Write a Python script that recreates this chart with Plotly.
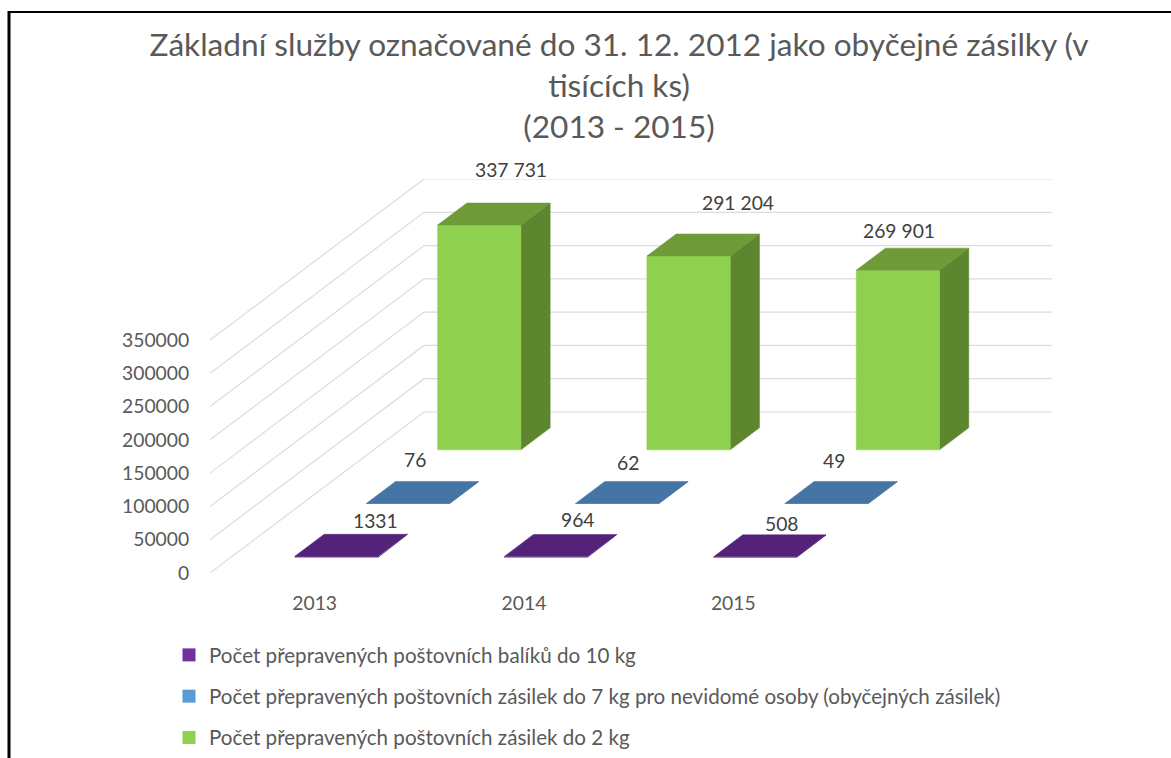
import plotly.graph_objects as go

FONT = "Lato"
TITLE = "Základní služby označované do 31. 12. 2012 jako obyčejné zásilky (v<br>tisících ks)<br>(2013 - 2015)"
years = [2013, 2014, 2015]
parcels_10kg = [1331, 964, 508]
blind_7kg = [76, 62, 49]
items_2kg = [337731, 291204, 269901]
labels_10kg = ["1331", "964", "508"]
labels_7kg = ["76", "62", "49"]
labels_2kg = ["337 731", "291 204", "269 901"]
y_ticks = [0, 50000, 100000, 150000, 200000, 250000, 300000, 350000]
name_10kg = "Počet přepravených poštovních balíků do 10 kg"
name_7kg = "Počet přepravených poštovních zásilek do 7 kg pro nevidomé osoby (obyčejných zásilek)"
name_2kg = "Počet přepravených poštovních zásilek do 2 kg"

W, H = 1171, 758
L, R, T, B = 210, 1052, 179, 573
V_PER_PX = 350000 / 233
DX = 214 / 209.25          # depth shift in category units
DY = 161 * V_PER_PX        # depth shift in value units
X_MIN, X_MAX = 2012.5, 2015.5 + DX
Y_MAX = (B - T) * V_PER_PX
BAR_W = 0.199
BAR_D = 11 / 161
CX_OFF = 0.004


def proj(x, d, v):
    return x + d * DX, v + d * DY


def poly(corners):
    xs, ys = [], []
    for x, d, v in corners:
        px, py = proj(x, d, v)
        xs.append(px)
        ys.append(py)
    return xs + [xs[0], None], ys + [ys[0], None]


def add_face(fig, cols):
    xs, ys = [], []
    for c in cols:
        a, b = poly(c)
        xs += a
        ys += b
    return xs, ys


fig = go.Figure()

# wall grid
gx, gy = [], []
for t in y_ticks:
    for x, d in [(X_MIN, 0), (X_MIN, 1), (X_MIN + 3, 1)]:
        px, py = proj(x, d, t)
        gx.append(px)
        gy.append(py)
    gx.append(None)
    gy.append(None)
fig.add_trace(go.Scatter(x=gx, y=gy, mode="lines", line=dict(color="#dcdcdc", width=1.2),
                         showlegend=False, hoverinfo="skip", cliponaxis=False))

series = [
    (items_2kg, 5 / 6, "#8fd14f", "#5d862f", "#6e9a38"),
    (blind_7kg, 3 / 6, "#5b9bd5", "#39648f", "#4575a5"),
    (parcels_10kg, 1 / 6, "#7030a0", "#43186a", "#55227a"),
]
for vals, dc, c_front, c_side, c_top in series:
    fronts, sides, tops = [], [], []
    for yr, v in zip(years, vals):
        x0, x1 = yr + CX_OFF - BAR_W, yr + CX_OFF + BAR_W
        d0, d1 = dc - BAR_D, dc + BAR_D
        fronts.append([(x0, d0, 0), (x1, d0, 0), (x1, d0, v), (x0, d0, v)])
        sides.append([(x1, d0, 0), (x1, d1, 0), (x1, d1, v), (x1, d0, v)])
        tops.append([(x0, d0, v), (x1, d0, v), (x1, d1, v), (x0, d1, v)])
    for faces, col in [(sides, c_side), (fronts, c_front), (tops, c_top)]:
        xs, ys = add_face(fig, faces)
        fig.add_trace(go.Scatter(x=xs, y=ys, mode="lines", fill="toself", fillcolor=col,
                                 line=dict(color=col, width=0.5), showlegend=False, hoverinfo="skip"))

# legend entries
for name, col in [(name_10kg, "#7030a0"), (name_7kg, "#5b9bd5"), (name_2kg, "#92d050")]:
    fig.add_trace(go.Scatter(x=[None], y=[None], mode="markers", name=name, legendgroup=name,
                             marker=dict(symbol="square", size=13, color=col)))

# data labels: anchored on each bar's top face, shifted in px by hand
label_sets = [
    (items_2kg, labels_2kg, 5 / 6, [17, 35, -14], [45, 42, 29]),
    (blind_7kg, labels_7kg, 3 / 6, [-8, -4, -7], [33, 30, 32]),
    (parcels_10kg, labels_10kg, 1 / 6, [24, 18, 12], [25, 26, 22]),
]
anns = []
for vals, labs, dc, sx, sy in label_sets:
    for yr, v, lab, dx, dy in zip(years, vals, labs, sx, sy):
        px, py = proj(yr + CX_OFF, dc, v)
        anns.append(dict(x=px, y=py, text=lab, showarrow=False, xshift=dx, yshift=dy,
                         font=dict(family=FONT, size=19.3, color="#404040")))

def fx(p): return (p - L) / (R - L)
def fy(p): return (B - p) / (B - T)
shapes = [
    dict(type="line", xref="paper", yref="paper", line=dict(color="#000000", width=3),
         x0=fx(9), x1=fx(9), y0=fy(11), y1=fy(760)),
    dict(type="line", xref="paper", yref="paper", line=dict(color="#000000", width=2),
         x0=fx(8), x1=fx(1172), y0=fy(12), y1=fy(12)),
]

tick_font = dict(family=FONT, size=19.3, color="#595959")
fig.update_layout(
    width=W, height=H, autosize=False,
    margin=dict(l=L, r=W - R, t=T, b=H - B, pad=0, autoexpand=False),
    paper_bgcolor="white", plot_bgcolor="white",
    font=dict(family=FONT, size=19, color="#595959"),
    title=dict(text=TITLE, font=dict(family=FONT, size=31.6, color="#595959"),
               xref="container", yref="container", x=619 / W, xanchor="center",
               y=1 - 56 / H, yanchor="top"),
    xaxis=dict(range=[X_MIN, X_MAX], tickvals=years, ticktext=[str(y) for y in years],
               showgrid=False, zeroline=False, showline=False, ticks="outside", ticklen=13,
               tickcolor="rgba(0,0,0,0)", fixedrange=True, tickfont=tick_font),
    yaxis=dict(range=[0, Y_MAX], tickvals=y_ticks, ticktext=[str(t) for t in y_ticks],
               showgrid=False, zeroline=False, showline=False, ticks="outside", ticklen=16,
               tickcolor="rgba(0,0,0,0)", fixedrange=True, tickfont=tick_font),
    legend=dict(xref="container", yref="container", x=169 / W, y=1 - 635 / H,
                xanchor="left", yanchor="top", traceorder="grouped", tracegroupgap=11.5,
                font=dict(family=FONT, size=20.6, color="#595959"), itemwidth=30,
                bgcolor="rgba(0,0,0,0)"),
    annotations=anns, shapes=shapes,
)
fig.write_html("out.html", config=dict(displayModeBar=False),
               post_script="document.body.style.margin='0';")
